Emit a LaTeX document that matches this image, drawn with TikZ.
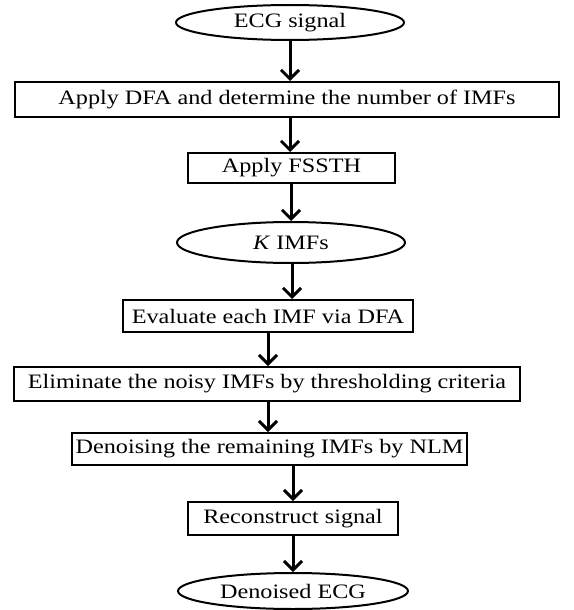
\documentclass[tikz,border=0pt]{standalone}
\usepackage{fontspec}
\setmainfont{Liberation Serif}[FakeStretch=1.18]
\usetikzlibrary{shapes.geometric,arrows.meta}
\tikzset{
  boxnode/.style={draw,line width=2pt,rectangle,inner sep=0pt,font=\fontsize{20.5}{23}\selectfont},
  ellnode/.style={draw,line width=2pt,ellipse,inner sep=0pt,font=\fontsize{20.5}{23}\selectfont},
  flow/.style={line width=3pt,-{Straight Barb[length=9pt,width=18pt,line width=3pt]}}
}
\begin{document}
\begin{tikzpicture}[x=1pt,y=-1pt]
\useasboundingbox (0,0) rectangle (573,610);
\node[ellnode,minimum width=228pt,minimum height=35pt] (e1) at (290,22.5) {ECG signal};
\node[boxnode,minimum width=544pt,minimum height=35pt] (b1) at (287,99.5) {Apply DFA and determine the number of IMFs};
\node[boxnode,minimum width=207pt,minimum height=30pt] (b2) at (291.5,168) {Apply FSSTH};
\node[ellnode,minimum width=228pt,minimum height=41pt] (e2) at (291,242.5) {\textit{K} IMFs};
\node[boxnode,minimum width=290pt,minimum height=32pt] (b3) at (268,316) {Evaluate each IMF via DFA};
\node[boxnode,minimum width=506pt,minimum height=34pt] (b4) at (267,384) {Eliminate the noisy IMFs by thresholding criteria};
\node[boxnode,minimum width=395pt,minimum height=32pt] (b5) at (269.5,449) {Denoising the remaining IMFs by NLM};
\node[boxnode,minimum width=210pt,minimum height=33pt] (b6) at (293,518.5) {Reconstruct signal};
\node[ellnode,minimum width=230pt,minimum height=36pt] (e3) at (293,591) {Denoised ECG};
\draw[flow] (e1.south) -- (e1.south |- b1.north);
\draw[flow] ([xshift=3pt]b1.south) -- ([xshift=3pt]b1.south |- b2.north);
\draw[flow] (e2.north |- b2.south) -- (e2.north);
\draw[flow] ([xshift=1pt]e2.south) -- ([xshift=1pt]e2.south |- b3.north);
\draw[flow] (b3.south) -- (b3.south |- b4.north);
\draw[flow] (b3.south |- b4.south) -- (b3.south |- b5.north);
\draw[flow] (b6.north |- b5.south) -- (b6.north);
\draw[flow] (b6.south) -- (e3.north);
\end{tikzpicture}
\end{document}
